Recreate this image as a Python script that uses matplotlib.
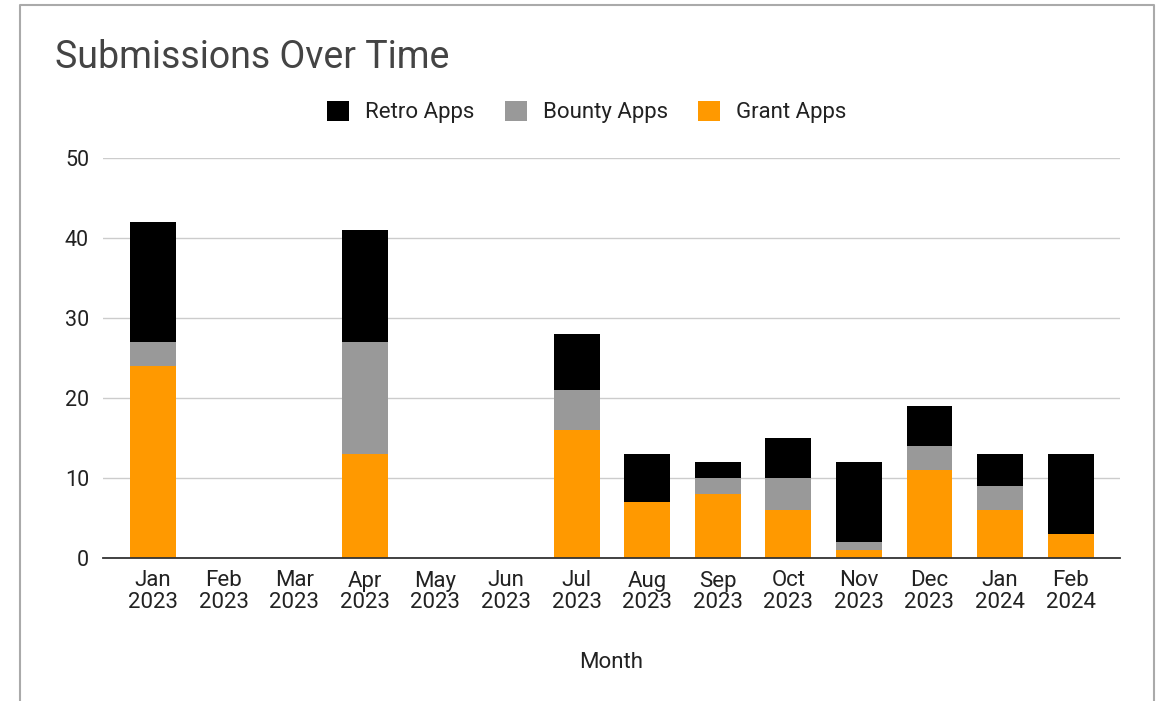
import matplotlib.pyplot as plt
import numpy as np
from matplotlib.lines import Line2D

plt.rcParams['font.family'] = ['Roboto', 'DejaVu Sans']

# Data
months = ['Jan\n2023', 'Feb\n2023', 'Mar\n2023', 'Apr\n2023', 'May\n2023', 'Jun\n2023',
          'Jul\n2023', 'Aug\n2023', 'Sep\n2023', 'Oct\n2023', 'Nov\n2023', 'Dec\n2023',
          'Jan\n2024', 'Feb\n2024']
grant_apps = [24, 0, 0, 13, 0, 0, 16, 7, 8, 6, 1, 11, 6, 3]
bounty_apps = [3, 0, 0, 14, 0, 0, 5, 0, 2, 4, 1, 3, 3, 0]
retro_apps = [15, 0, 0, 14, 0, 0, 7, 6, 2, 5, 10, 5, 4, 10]

W, H = 1166, 701
fig = plt.figure(figsize=(W / 100, H / 100), dpi=100)
ax = fig.add_axes([103 / W, 1 - 558 / H, (1120 - 103) / W, 400 / H])

x = np.arange(len(months))
w = 0.65
grant = np.array(grant_apps)
bounty = np.array(bounty_apps)
retro = np.array(retro_apps)

ax.bar(x, grant, width=w, color='#ff9900', label='Grant Apps', zorder=3)
ax.bar(x, bounty, width=w, bottom=grant, color='#999999', label='Bounty Apps', zorder=3)
ax.bar(x, retro, width=w, bottom=grant + bounty, color='#000000', label='Retro Apps', zorder=3)

ax.set_xlim(-0.71, len(months) - 1 + 0.7)
ax.set_ylim(0, 50)
ax.set_yticks([0, 10, 20, 30, 40, 50])
ax.set_xticks(x)
ax.set_xticklabels(months, fontsize=16, color='#222222', linespacing=1.02)
ax.tick_params(axis='y', labelsize=15.5, labelcolor='#222222', length=0, pad=10)
ax.tick_params(axis='x', length=0, pad=9)
ax.grid(axis='y', color='#cccccc', linewidth=1, zorder=0)
for s in ['top', 'right', 'left']:
    ax.spines[s].set_visible(False)
ax.spines['bottom'].set_color('#333333')
ax.spines['bottom'].set_linewidth(1.3)
ax.spines['bottom'].set_zorder(4)

ax.set_xlabel('Month', fontsize=16, color='#222222', labelpad=28)

fig.text(55 / W, 1 - 58 / H, 'Submissions Over Time', fontsize=27, color='#444444',
         va='center', ha='left')

handles, labels = ax.get_legend_handles_labels()
leg = fig.legend(handles[::-1], labels[::-1], loc='center', bbox_to_anchor=(587 / W, 1 - 112 / H),
                 ncol=3, frameon=False, fontsize=16, handlelength=1.0, handleheight=1.0,
                 columnspacing=1.35, handletextpad=0.72)
for t in leg.get_texts():
    t.set_color('#222222')

# card border (left, top, right)
fig.add_artist(Line2D([20 / W, 20 / W, 1154 / W, 1154 / W], [0, 1 - 5 / H, 1 - 5 / H, 0],
                      transform=fig.transFigure, color='#aaaaaa', linewidth=1.5))

fig.savefig('out.png', dpi=100)
